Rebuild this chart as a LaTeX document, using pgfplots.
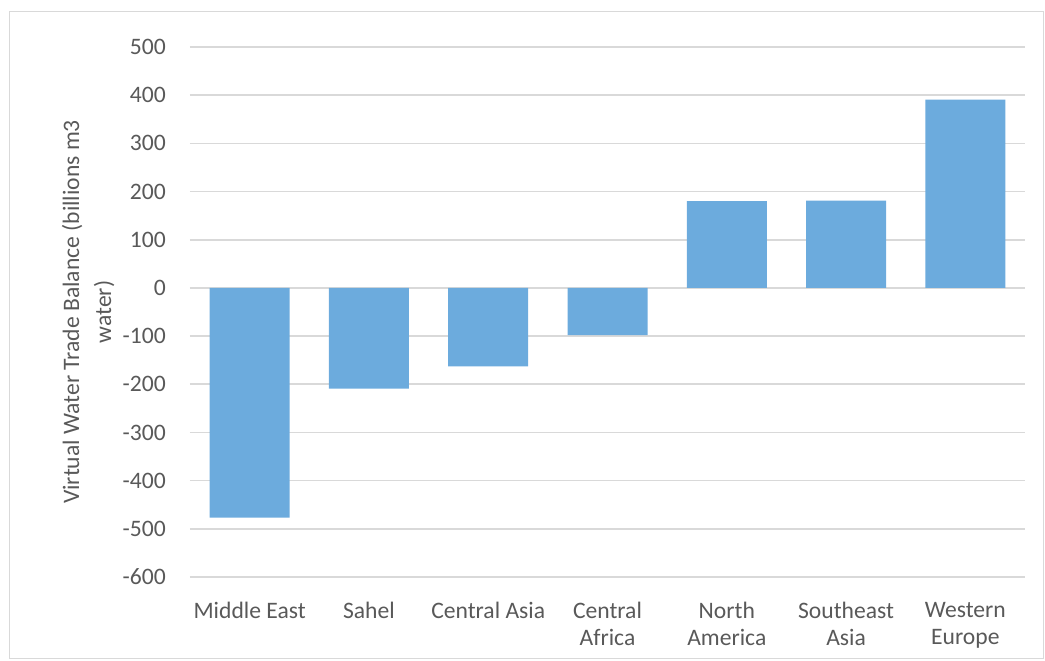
\documentclass[border=0pt]{standalone}
\usepackage{pgfplots}
\pgfplotsset{compat=1.18}
\usepackage{fontspec}
\setmainfont{Carlito}
\definecolor{barblue}{HTML}{6CABDD}
\definecolor{txt}{HTML}{595959}
\definecolor{gridc}{HTML}{D9D9D9}
\begin{document}
\begin{tikzpicture}[x=0.75pt,y=0.75pt]
\path[use as bounding box] (-190,-83) rectangle (855,577);
\draw[color=gridc, line width=0.75pt] (-180,-81) rectangle (853,565);
\begin{axis}[
  at={(0,0)}, anchor=south west,
  scale only axis, width=626.25pt, height=397.5pt,
  xmin=-0.5, xmax=6.5, ymin=-600, ymax=500,
  ytick={-600,-500,...,500},
  xtick={0,...,6},
  xticklabels={Middle East,Sahel,Central Asia,{Central\\Africa},{North\\America},{Southeast\\Asia},{Western\\Europe}},
  ybar, bar width=60pt, bar shift=0pt,
  axis line style={draw=none}, major tick length=0pt,
  ymajorgrids, grid style={draw=gridc, line width=1.2pt},
  tick label style={font=\fontsize{17.7}{20.5}\selectfont, text=txt},
  /pgf/number format/assume math mode=true,
  yticklabel style={inner sep=0pt, anchor=east, xshift=-18pt},
  xticklabel style={inner sep=0pt, anchor=north, yshift=-18.5pt, align=center},
  ylabel={Virtual Water Trade Balance (billions m3\\water)},
  ylabel style={at={(axis description cs:-0.122,0.5)}, anchor=center, align=center, font=\fontsize{17.7}{24}\selectfont, text=txt},
]
\addplot[fill=barblue, draw=none] coordinates {(0,-477) (1,-209) (2,-163) (3,-98) (4,180) (5,181) (6,391)};
\end{axis}
\end{tikzpicture}
\end{document}
